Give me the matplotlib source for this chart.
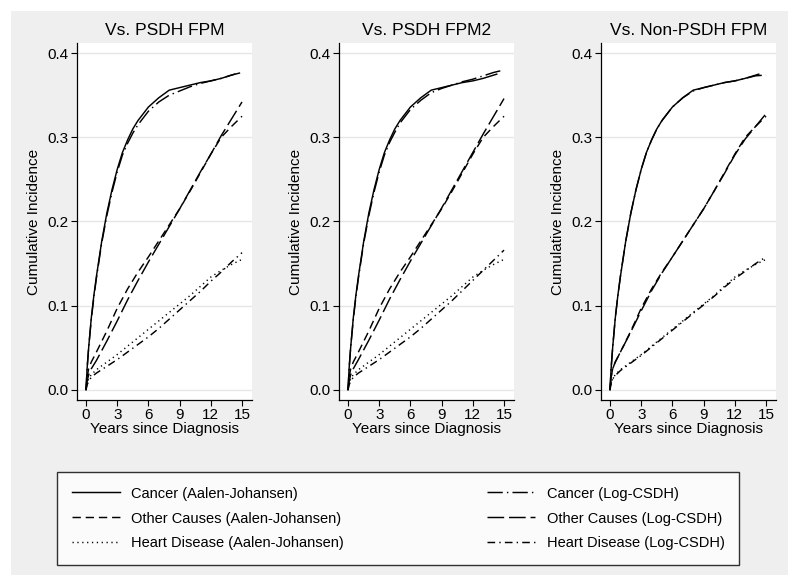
import numpy as np
import matplotlib
matplotlib.use("Agg")
import matplotlib.pyplot as plt
from matplotlib.patches import Rectangle

plt.rcParams['font.family'] = ['Liberation Sans', 'DejaVu Sans']
plt.rcParams['lines.scale_dashes'] = False

# Aalen-Johansen (non-parametric) estimates, same in all panels
t_aj = [0, 0.1, 0.25, 0.5, 0.75, 1, 1.5, 2, 2.5, 3, 3.5, 4, 4.5, 5, 6, 7, 8, 9, 10, 11, 12, 13, 14.3]
cancer_aj = [0, 0.025, 0.05, 0.085, 0.112, 0.135, 0.176, 0.21, 0.238, 0.262, 0.282, 0.297, 0.31, 0.32,
             0.336, 0.347, 0.356, 0.359, 0.362, 0.365, 0.367, 0.37, 0.375]

t_aj2 = [0, 0.1, 0.25, 0.5, 1, 2, 3, 4, 5, 6, 7, 8, 9, 10, 11, 12, 13, 14, 15]
other_aj = [0, 0.015, 0.025, 0.033, 0.045, 0.07, 0.097, 0.12, 0.14, 0.158, 0.177, 0.196, 0.215,
            0.236, 0.258, 0.28, 0.3, 0.313, 0.325]
heart_aj = [0, 0.008, 0.013, 0.018, 0.024, 0.033, 0.042, 0.052, 0.062, 0.072, 0.082, 0.092, 0.102,
            0.112, 0.123, 0.134, 0.142, 0.149, 0.155]

# Log-CSDH model predictions, one set per panel
t_mod = [0, 0.1, 0.25, 0.5, 0.75, 1, 1.5, 2, 2.5, 3, 3.5, 4, 4.5, 5, 6, 7, 8, 9, 10, 11, 12, 13, 14, 15]
cancer_mod = {
    "Vs. PSDH FPM": [0, 0.025, 0.05, 0.083, 0.11, 0.133, 0.174, 0.207, 0.235, 0.259, 0.279, 0.293, 0.305,
                     0.315, 0.331, 0.342, 0.35, 0.355, 0.36, 0.364, 0.367, 0.37, 0.374, 0.377],
    "Vs. PSDH FPM2": [0, 0.025, 0.05, 0.083, 0.11, 0.133, 0.174, 0.207, 0.235, 0.259, 0.279, 0.294, 0.306,
                      0.317, 0.333, 0.344, 0.353, 0.358, 0.362, 0.366, 0.369, 0.373, 0.377, 0.38],
    "Vs. Non-PSDH FPM": [0, 0.025, 0.05, 0.085, 0.112, 0.135, 0.176, 0.21, 0.238, 0.262, 0.282, 0.297, 0.31,
                         0.32, 0.336, 0.347, 0.355, 0.359, 0.362, 0.365, 0.367, 0.37, 0.373, 0.374],
}
t_mod2 = [0, 0.1, 0.25, 0.5, 1, 2, 3, 4, 5, 6, 7, 8, 9, 10, 11, 12, 13, 14, 15]
other_mod = {
    "Vs. PSDH FPM": [0, 0.01, 0.018, 0.025, 0.035, 0.058, 0.082, 0.107, 0.13, 0.152, 0.173, 0.194, 0.215,
                     0.237, 0.259, 0.28, 0.302, 0.322, 0.342],
    "Vs. PSDH FPM2": [0, 0.01, 0.018, 0.025, 0.036, 0.059, 0.083, 0.108, 0.131, 0.153, 0.174, 0.195, 0.216,
                      0.238, 0.26, 0.282, 0.304, 0.325, 0.346],
    "Vs. Non-PSDH FPM": [0, 0.015, 0.025, 0.033, 0.045, 0.069, 0.094, 0.118, 0.139, 0.158, 0.177, 0.196, 0.215,
                         0.236, 0.257, 0.279, 0.298, 0.313, 0.328],
}
heart_mod = {
    "Vs. PSDH FPM": [0, 0.006, 0.01, 0.015, 0.02, 0.028, 0.036, 0.045, 0.054, 0.063, 0.073, 0.084, 0.095,
                     0.106, 0.117, 0.129, 0.14, 0.152, 0.163],
    "Vs. PSDH FPM2": [0, 0.006, 0.01, 0.015, 0.02, 0.028, 0.036, 0.045, 0.054, 0.063, 0.073, 0.084, 0.095,
                      0.106, 0.118, 0.13, 0.142, 0.154, 0.166],
    "Vs. Non-PSDH FPM": [0, 0.008, 0.013, 0.017, 0.023, 0.032, 0.041, 0.051, 0.061, 0.071, 0.081, 0.091, 0.101,
                         0.111, 0.122, 0.132, 0.141, 0.15, 0.158],
}
panels = ["Vs. PSDH FPM", "Vs. PSDH FPM2", "Vs. Non-PSDH FPM"]
xticks = [0, 3, 6, 9, 12, 15]
yticks = [0.0, 0.1, 0.2, 0.3, 0.4]

# line patterns (points)
solid = dict(linestyle='-')
dash = dict(dashes=(6, 3.5))
dot = dict(dashes=(0.9, 2.6))
longdash_dot = dict(dashes=(11, 3, 1, 3))
longdash = dict(dashes=(12, 3.5))
dash_dot = dict(dashes=(5.5, 3, 1, 3))

fig = plt.figure(figsize=(8, 5.87), dpi=100)
fig.patch.set_facecolor('white')
fig.patches.append(Rectangle((11 / 800, 1 - 575 / 587), 777 / 800, 564 / 587,
                             transform=fig.transFigure, facecolor='#efefef', edgecolor='none', zorder=-10))

lefts = [77, 339, 601]
lw = 1.05
for name, left in zip(panels, lefts):
    ax = fig.add_axes([left / 800, 1 - 400 / 587, 175 / 800, 357 / 587])
    ax.set_facecolor('white')
    for y in yticks:
        ax.axhline(y, color='#e6e6e6', lw=1.0, zorder=0)
    ax.plot(t_aj, cancer_aj, color='black', lw=lw, **solid)
    ax.plot(t_aj2, other_aj, color='black', lw=lw, **dash)
    ax.plot(t_aj2, heart_aj, color='black', lw=lw, **dot)
    ax.plot(t_mod, cancer_mod[name], color='black', lw=lw, **longdash_dot)
    ax.plot(t_mod2, other_mod[name], color='black', lw=lw, **longdash)
    ax.plot(t_mod2, heart_mod[name], color='black', lw=lw, **dash_dot)
    ax.set_xlim(-0.87, 15.96)
    ax.set_ylim(-0.012, 0.412)
    ax.set_xticks(xticks)
    ax.set_yticks(yticks)
    ax.set_yticklabels([f"{v:.1f}" for v in yticks])
    ax.tick_params(labelsize=11, length=4, width=0.8, colors='black', pad=2)
    for s in ['top', 'right']:
        ax.spines[s].set_visible(False)
    for s in ['left', 'bottom']:
        ax.spines[s].set_linewidth(0.9)
    ax.set_title(name, fontsize=12.5, pad=6)
    ax.set_ylabel("Cumulative Incidence", fontsize=11, labelpad=5)
    ax.set_xlabel("Years since Diagnosis", fontsize=11, labelpad=0)

handles = [
    plt.Line2D([], [], color='black', lw=lw, **solid),
    plt.Line2D([], [], color='black', lw=lw, **dash),
    plt.Line2D([], [], color='black', lw=lw, **dot),
    plt.Line2D([], [], color='black', lw=lw, **longdash_dot),
    plt.Line2D([], [], color='black', lw=lw, **longdash),
    plt.Line2D([], [], color='black', lw=lw, **dash_dot),
]
labels = ["Cancer (Aalen-Johansen)", "Other Causes (Aalen-Johansen)", "Heart Disease (Aalen-Johansen)",
          "Cancer (Log-CSDH)", "Other Causes (Log-CSDH)", "Heart Disease (Log-CSDH)"]
leg = fig.legend(handles, labels, ncol=2, loc='center', mode='expand',
                 bbox_to_anchor=(57 / 800, 1 - 563 / 587, 682 / 800, 89 / 587),
                 fontsize=10.5, frameon=True, fancybox=False, handlelength=3.3,
                 handletextpad=0.8, labelspacing=0.75, borderpad=1.0, borderaxespad=0)
leg.get_frame().set_edgecolor('black')
leg.get_frame().set_linewidth(1.0)

fig.savefig("out.png", dpi=100)
